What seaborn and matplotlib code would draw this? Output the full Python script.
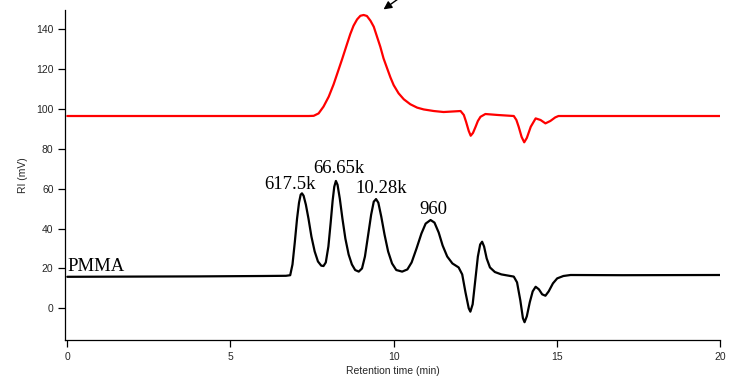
import matplotlib
matplotlib.use('Agg')
import matplotlib.pyplot as plt
import seaborn as sns

# traces (time in min, signal in mV)
red_time = [0.0, 7.40, 7.55, 7.70, 7.85, 8.01, 8.16, 8.28, 8.42, 8.57, 8.67, 8.77, 8.88,
            8.98, 9.08, 9.18, 9.29, 9.39, 9.49, 9.59, 9.69, 9.80, 9.90, 10.00, 10.15,
            10.31, 10.51, 10.72, 10.92, 11.23, 11.53, 11.74, 12.05, 12.15, 12.22, 12.30,
            12.36, 12.43, 12.51, 12.58, 12.66, 12.81, 13.20, 13.68, 13.76, 13.83, 13.92,
            14.00, 14.08, 14.20, 14.35, 14.50, 14.65, 14.80, 14.95, 15.05, 16.0, 20.0]
red_signal = [96.5, 96.5, 96.6, 97.8, 101.2, 106.2, 112.4, 118.2, 125.0, 132.6, 137.6,
              141.8, 145.0, 146.8, 147.2, 146.7, 144.3, 141.3, 136.3, 131.3, 125.4, 120.4,
              115.9, 112.0, 107.9, 104.9, 102.4, 100.7, 99.8, 99.0, 98.5, 98.7, 99.0, 97.0,
              93.5, 89.0, 86.6, 88.0, 91.1, 94.0, 96.1, 97.5, 97.0, 96.5, 94.5, 91.1, 86.0,
              83.3, 85.5, 91.1, 95.3, 94.5, 92.8, 94.0, 95.8, 96.5, 96.5, 96.5]

black_time = [0.0, 4.0, 6.0, 6.70, 6.83, 6.90, 6.97, 7.04, 7.10, 7.15, 7.19, 7.24, 7.31,
              7.39, 7.48, 7.58, 7.68, 7.78, 7.85, 7.92, 8.00, 8.07, 8.13, 8.18, 8.23, 8.28,
              8.35, 8.43, 8.52, 8.62, 8.72, 8.82, 8.93, 9.03, 9.12, 9.22, 9.31, 9.39, 9.46,
              9.53, 9.62, 9.72, 9.83, 9.95, 10.08, 10.26, 10.42, 10.55, 10.70, 10.85, 10.98,
              11.13, 11.25, 11.38, 11.50, 11.64, 11.80, 11.99, 12.10, 12.20, 12.30, 12.35,
              12.42, 12.50, 12.58, 12.65, 12.71, 12.77, 12.85, 12.95, 13.10, 13.30, 13.68,
              13.78, 13.88, 13.96, 14.01, 14.08, 14.17, 14.26, 14.35, 14.45, 14.55, 14.65,
              14.75, 14.88, 15.01, 15.20, 15.42, 17.0, 20.0]
black_signal = [15.8, 16.0, 16.2, 16.3, 16.6, 22.0, 33.0, 45.0, 53.0, 57.0, 57.7, 56.5,
                52.0, 45.0, 36.0, 28.5, 23.5, 21.4, 21.2, 23.0, 31.0, 43.0, 54.0, 61.0,
                63.9, 62.0, 55.0, 45.0, 35.0, 27.0, 22.0, 19.2, 18.4, 20.0, 26.0, 37.0,
                47.0, 53.5, 54.8, 53.0, 46.0, 37.0, 28.5, 22.5, 19.2, 18.4, 19.5, 23.0,
                30.0, 37.5, 42.5, 44.3, 43.0, 38.0, 31.5, 26.0, 22.5, 20.5, 17.0, 8.0, 0.0,
                -1.7, 2.0, 14.0, 26.0, 32.0, 33.4, 31.0, 25.0, 20.5, 18.2, 17.0, 15.9, 13.0,
                4.0, -5.0, -7.0, -4.0, 3.0, 8.5, 10.8, 9.5, 7.0, 6.3, 8.5, 12.5, 15.0, 16.2,
                16.7, 16.6, 16.7]

# peak labels (molecular weights of the standards)
peak_labels = ['PMMA', '617.5k', '66.65k', '10.28k', '960']
label_x = [0.02, 6.81, 8.31, 9.61, 11.23]
label_y = [18.7, 60.0, 68.0, 57.7, 47.2]

sns.set_style('ticks')
plt.rcParams['font.family'] = ['Liberation Sans', 'DejaVu Sans']

fig = plt.figure(figsize=(7.34, 3.85), dpi=100)
ax = fig.add_axes([0.089, 0.117, 0.892, 0.857])

sns.lineplot(x=red_time, y=red_signal, ax=ax, color='#ff0000', linewidth=1.6,
             estimator=None, sort=False)
sns.lineplot(x=black_time, y=black_signal, ax=ax, color='black', linewidth=1.6,
             estimator=None, sort=False)

for i, lab in enumerate(peak_labels):
    ha = 'left' if i == 0 else 'center'
    ax.text(label_x[i], label_y[i], lab, ha=ha, va='baseline',
            family='Liberation Serif', fontsize=13.5, color='black')

# arrow pointing at the red peak
ax.annotate('', xy=(9.62, 149.2), xytext=(10.2, 156), annotation_clip=False,
            arrowprops=dict(arrowstyle='-|>', color='black', lw=1.0,
                            mutation_scale=12))

ax.set_xlim(-0.06, 20)
ax.set_ylim(-15.9, 149.7)
ax.set_xticks([0, 5, 10, 15, 20])
ax.set_yticks([0, 20, 40, 60, 80, 100, 120, 140])
ax.tick_params(labelsize=7.5, length=5, width=0.9, color='black', direction='out')
ax.set_xlabel('Retention time (min)', fontsize=7.5, labelpad=3)
ax.set_ylabel('RI (mV)', fontsize=7.5, labelpad=6)
for s in ['top', 'right']:
    ax.spines[s].set_visible(False)
for s in ['left', 'bottom']:
    ax.spines[s].set_color('black')
    ax.spines[s].set_linewidth(0.9)

fig.savefig('out.png', dpi=100)
